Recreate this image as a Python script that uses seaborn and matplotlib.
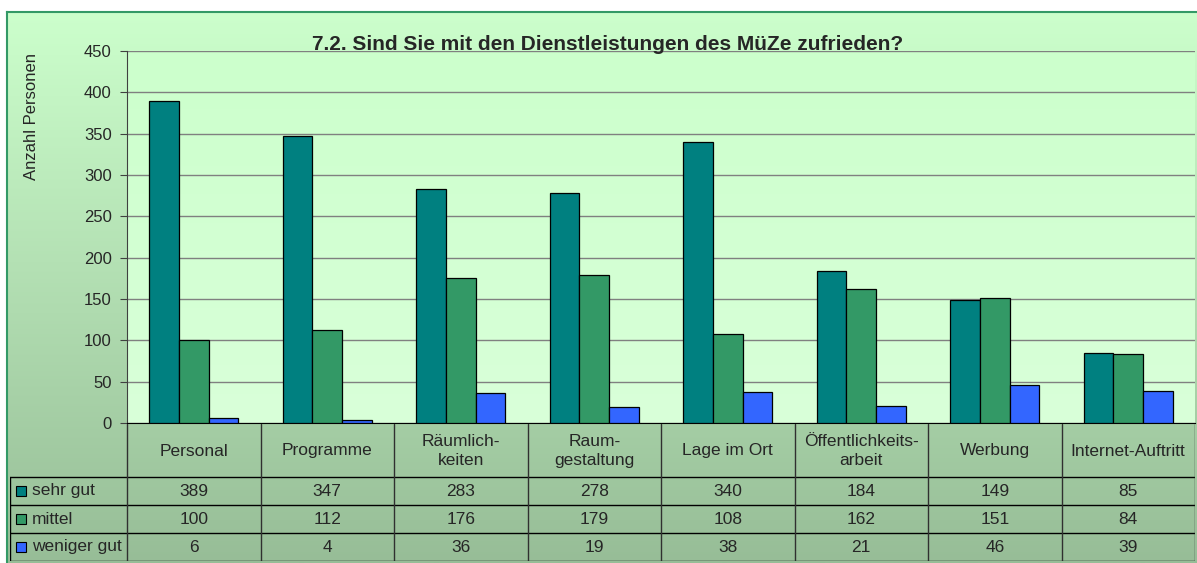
import numpy as np
import pandas as pd
import seaborn as sns
import matplotlib.pyplot as plt
from matplotlib.patches import Rectangle
from matplotlib.colors import LinearSegmentedColormap

kategorien = ['Personal', 'Programme', 'Räumlich-\nkeiten', 'Raum-\ngestaltung',
              'Lage im Ort', 'Öffentlichkeits-\narbeit', 'Werbung', 'Internet-Auftritt']
serien = ['sehr gut', 'mittel', 'weniger gut']
sehr_gut = [389, 347, 283, 278, 340, 184, 149, 85]
mittel = [100, 112, 176, 179, 108, 162, 151, 84]
weniger_gut = [6, 4, 36, 19, 38, 21, 46, 39]
farben = ['#008080', '#339966', '#3366ff']

df = pd.DataFrame({
    'kategorie': kategorien * 3,
    'serie': np.repeat(serien, len(kategorien)),
    'wert': sehr_gut + mittel + weniger_gut,
})

sns.set_style('white')
plt.rcParams['font.family'] = ['Liberation Sans', 'DejaVu Sans']

W, H = 1197, 563
fig = plt.figure(figsize=(W / 100, H / 100), dpi=100)
fig.patch.set_facecolor('white')

# Hintergrund mit Verlauf
bg = fig.add_axes([7 / W, 0, 1 - 7 / W, (H - 12) / H], zorder=-10)
cmap_bg = LinearSegmentedColormap.from_list('bg', ['#ccffcc', '#97bd97'])
bg.imshow(np.linspace(0, 1, 256).reshape(-1, 1), aspect='auto', cmap=cmap_bg,
          extent=[0, 1, 0, 1], origin='upper')
bg.set_xticks([])
bg.set_yticks([])
for s in bg.spines.values():
    s.set_color('#339966')
    s.set_linewidth(1.5)
bg.spines['bottom'].set_visible(False)
bg.spines['right'].set_visible(False)

# Diagramm
x0, x1 = 127, 1195
y_top, y_bot = 51, 423
ax = fig.add_axes([x0 / W, (H - y_bot) / H, (x1 - x0) / W, (y_bot - y_top) / H])
ax.patch.set_alpha(0)
cmap_pa = LinearSegmentedColormap.from_list('pa', ['#ccffcc', '#d9ffd9'])
ax.imshow(np.linspace(0, 1, 256).reshape(-1, 1), aspect='auto', cmap=cmap_pa,
          extent=[-0.5, 7.5, 0, 450], origin='upper', zorder=0)

sns.barplot(data=df, x='kategorie', y='wert', hue='serie', palette=farben,
            saturation=1, width=0.67, edgecolor='black', linewidth=0.9,
            legend=False, ax=ax, zorder=3)
ax.set_xlim(-0.5, 7.5)
ax.set_ylim(0, 450)
ax.set_yticks(range(0, 451, 50))
ax.yaxis.grid(True, color='#808080', linewidth=1, zorder=1)
ax.set_axisbelow(True)
ax.set_xticks([])
ax.set_xlabel('')
ax.set_ylabel('')
ax.tick_params(axis='y', which='both', left=True, length=5, color='#404040',
               labelsize=12, pad=6)
for s in ['top', 'right']:
    ax.spines[s].set_visible(False)
ax.spines['left'].set_color('#404040')
ax.spines['bottom'].set_color('black')

fig.text(608 / W, (H - 44) / H, '7.2. Sind Sie mit den Dienstleistungen des MüZe zufrieden?',
         ha='center', va='center', fontsize=15, fontweight='bold')
fig.text(31 / W, (H - 116) / H, 'Anzahl Personen', rotation=90,
         ha='center', va='center', fontsize=12)

# Datentabelle
lab_w = (127 - 10) / ((x1 - x0) / 8)
tx0, ty_top, ty_bot = 10, 424, 561
ax_t = fig.add_axes([tx0 / W, (H - ty_bot) / H, (x1 - tx0) / W, (ty_bot - ty_top) / H])
ax_t.set_xlim(-0.5 - lab_w, 7.5)
ax_t.set_ylim(137, 0)
ax_t.axis('off')
lc = 'black'
lw = 1
zeilen = [53, 81, 109, 137]
for y in zeilen:
    ax_t.plot([-0.5 - lab_w, 7.5], [y, y], color=lc, lw=lw)
ax_t.plot([-0.5 - lab_w, -0.5 - lab_w], [53, 137], color=lc, lw=lw)
for i in range(9):
    ax_t.plot([i - 0.5, i - 0.5], [0, 137], color='#303030', lw=lw)

for i, k in enumerate(kategorien):
    ax_t.text(i, 27, k, ha='center', va='center', fontsize=12.5, linespacing=1.3)

for r, (name, werte, farbe) in enumerate(zip(serien, [sehr_gut, mittel, weniger_gut], farben)):
    yc = 53 + 14 + 28 * r
    ax_t.add_patch(Rectangle((-0.5 - lab_w + 0.045, yc - 5), 0.075, 10,
                             facecolor=farbe, edgecolor='black', lw=0.8))
    ax_t.text(-0.5 - lab_w + 0.165, yc, name, ha='left', va='center', fontsize=12.5)
    for i, v in enumerate(werte):
        ax_t.text(i, yc, str(v), ha='center', va='center', fontsize=12.5)

fig.savefig('out.png', dpi=100)
